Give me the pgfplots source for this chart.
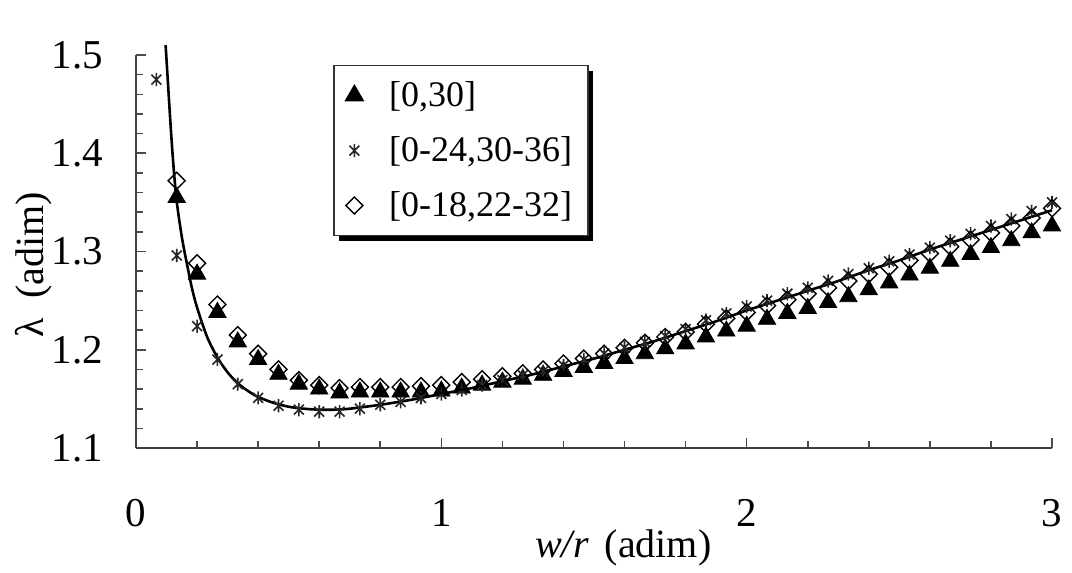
\documentclass[border=0pt]{standalone}
\usepackage{fontspec}
\setmainfont{Liberation Serif}
\usepackage{pgfplots}
\usepackage{pgfplotstable}
\pgfplotsset{compat=1.18}
\usetikzlibrary{shadows,calc}

\pgfdeclareplotmark{xstar}{%
  \pgfpathmoveto{\pgfqpoint{-0.75\pgfplotmarksize}{-0.75\pgfplotmarksize}}%
  \pgfpathlineto{\pgfqpoint{0.75\pgfplotmarksize}{0.75\pgfplotmarksize}}%
  \pgfpathmoveto{\pgfqpoint{-0.75\pgfplotmarksize}{0.75\pgfplotmarksize}}%
  \pgfpathlineto{\pgfqpoint{0.75\pgfplotmarksize}{-0.75\pgfplotmarksize}}%
  \pgfpathmoveto{\pgfqpoint{0pt}{-\pgfplotmarksize}}%
  \pgfpathlineto{\pgfqpoint{0pt}{\pgfplotmarksize}}%
  \pgfusepathqstroke}

\pgfplotstableread{
x y
0.1333 1.355
0.2000 1.277
0.2667 1.238
0.3333 1.208
0.4000 1.190
0.4667 1.175
0.5333 1.165
0.6000 1.160
0.6667 1.156
0.7333 1.157
0.8000 1.157
0.8667 1.157
0.9333 1.157
1.0000 1.158
1.0667 1.161
1.1333 1.164
1.2000 1.167
1.2667 1.170
1.3333 1.174
1.4000 1.178
1.4667 1.182
1.5333 1.186
1.6000 1.191
1.6667 1.196
1.7333 1.201
1.8000 1.206
1.8667 1.213
1.9333 1.219
2.0000 1.224
2.0667 1.231
2.1333 1.237
2.2000 1.242
2.2667 1.248
2.3333 1.254
2.4000 1.261
2.4667 1.268
2.5333 1.276
2.6000 1.283
2.6667 1.290
2.7333 1.297
2.8000 1.304
2.8667 1.311
2.9333 1.319
3.0000 1.326
}\triA

\pgfplotstableread{
x y
0.0667 1.475
0.1333 1.296
0.2000 1.224
0.2667 1.190
0.3333 1.165
0.4000 1.151
0.4667 1.143
0.5333 1.139
0.6000 1.137
0.6667 1.137
0.7333 1.140
0.8000 1.144
0.8667 1.147
0.9333 1.151
1.0000 1.155
1.0667 1.159
1.1333 1.164
1.2000 1.169
1.2667 1.174
1.3333 1.178
1.4000 1.184
1.4667 1.190
1.5333 1.196
1.6000 1.202
1.6667 1.208
1.7333 1.214
1.8000 1.221
1.8667 1.230
1.9333 1.237
2.0000 1.244
2.0667 1.250
2.1333 1.257
2.2000 1.263
2.2667 1.270
2.3333 1.277
2.4000 1.283
2.4667 1.290
2.5333 1.297
2.6000 1.304
2.6667 1.311
2.7333 1.318
2.8000 1.326
2.8667 1.333
2.9333 1.341
3.0000 1.350
}\starB

\pgfplotstableread{
x y
0.1333 1.372
0.2000 1.288
0.2667 1.246
0.3333 1.215
0.4000 1.196
0.4667 1.180
0.5333 1.169
0.6000 1.164
0.6667 1.161
0.7333 1.162
0.8000 1.162
0.8667 1.162
0.9333 1.163
1.0000 1.164
1.0667 1.167
1.1333 1.170
1.2000 1.173
1.2667 1.176
1.3333 1.180
1.4000 1.186
1.4667 1.191
1.5333 1.196
1.6000 1.202
1.6667 1.207
1.7333 1.213
1.8000 1.218
1.8667 1.226
1.9333 1.232
2.0000 1.238
2.0667 1.245
2.1333 1.251
2.2000 1.257
2.2667 1.263
2.3333 1.270
2.4000 1.277
2.4667 1.284
2.5333 1.291
2.6000 1.298
2.6667 1.305
2.7333 1.312
2.8000 1.319
2.8667 1.326
2.9333 1.334
3.0000 1.344
}\diaC

\pgfplotstableread{
x y
0.097 1.510
0.105 1.470
0.113 1.430
0.122 1.390
0.133 1.352
0.150 1.315
0.167 1.287
0.183 1.263
0.200 1.243
0.233 1.213
0.267 1.192
0.300 1.177
0.333 1.166
0.367 1.158
0.400 1.152
0.450 1.146
0.500 1.142
0.550 1.140
0.600 1.139
0.650 1.139
0.700 1.140
0.800 1.144
0.900 1.149
1.000 1.155
1.100 1.161
1.200 1.168
1.300 1.175
1.400 1.183
1.500 1.191
1.600 1.200
1.700 1.209
1.800 1.219
1.900 1.229
2.000 1.240
2.100 1.250
2.200 1.260
2.300 1.270
2.400 1.281
2.500 1.291
2.600 1.302
2.700 1.312
2.800 1.322
2.900 1.332
3.000 1.342
}\fitD

\begin{document}
\begin{tikzpicture}
\begin{axis}[
  name=ax,
  scale only axis=true,
  width=458pt, height=196.5pt,
  xmin=0, xmax=3, ymin=1.1, ymax=1.5,
  clip=false,
  axis lines=left,
  axis line style={-, line width=1pt, draw=black!75},
  tick align=inside,
  major tick length=5pt,
  minor tick length=3.5pt,
  tick style={line width=0.8pt, draw=black!70},
  xtick={0,1,2,3},
  ytick={1.1,1.2,1.3,1.4,1.5},
  minor x tick num=4,
  minor y tick num=4,
  /pgf/number format/assume math mode=true,
  ticklabel style={font=\fontsize{20.5}{24}\selectfont},
  yticklabel style={/pgf/number format/fixed, /pgf/number format/fixed zerofill, /pgf/number format/precision=1, xshift=-13pt},
  xticklabel style={yshift=-22pt},
  xlabel={\textit{w/r}\hspace{8pt}(adim)},
  ylabel={λ\hspace{10pt}(adim)},
  label style={font=\fontsize{20}{24}\selectfont},
  xlabel style={at={(axis description cs:0.532,-0.255)}, anchor=center},
  ylabel style={at={(axis description cs:-0.112,0.466)}, anchor=center, rotate=0},
  legend style={
    at={(axis description cs:0.215,0.975)}, anchor=north west,
    draw=black!80, line width=0.8pt, fill=white,
    font=\fontsize{18}{21}\selectfont,
    inner xsep=6pt, inner ysep=6pt, row sep=9.5pt, column sep=11pt,
    drop shadow={shadow xshift=2.5pt, shadow yshift=-2.5pt, fill=black, opacity=1},
  },
  legend cell align=left,
]
\addplot[only marks, mark=triangle*, mark size=5pt, mark options={fill=black, draw=black}] table[x=x,y=y] {\triA};
\addlegendentry{[0,30]}
\addplot[only marks, mark=xstar, mark size=3.3pt, mark options={draw=black!85, line width=0.8pt}] table[x=x,y=y] {\starB};
\addlegendentry{[0-24,30-36]}
\addplot[only marks, mark=square, mark size=3pt, mark options={draw=black, fill=white, line width=0.7pt, rotate=45}] table[x=x,y=y] {\diaC};
\addlegendentry{[0-18,22-32]}
\addplot[forget plot, smooth, line width=1.3pt, black] table[x=x,y=y] {\fitD};
\end{axis}
\pgfresetboundingbox
\path ($(ax.south west)+(-68pt,-62pt)$) rectangle ($(ax.north east)+(10pt,27.5pt)$);
\end{tikzpicture}
\end{document}
